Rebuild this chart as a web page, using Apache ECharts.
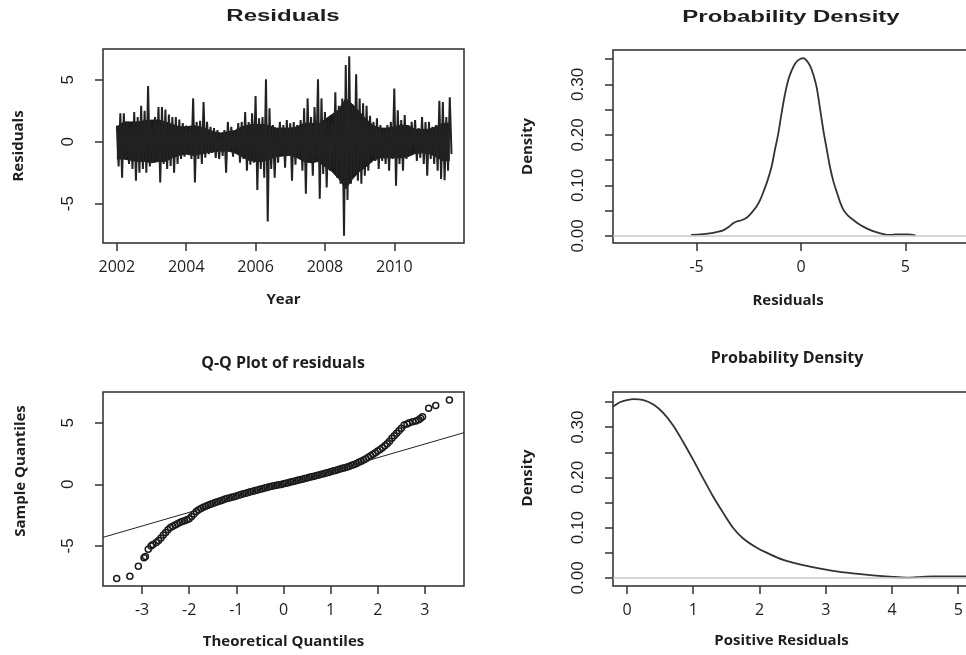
<!DOCTYPE html>
<html><head><meta charset="utf-8">
<script src="https://cdn.jsdelivr.net/npm/echarts@6/dist/echarts.min.js"></script>
<style>html,body{margin:0;padding:0;background:#fff;overflow:hidden;width:966px;height:655px}#c{width:1010px;height:655px}</style>
</head><body><div id="c"></div>
<script>
// ---------- Panel 1: residual time series ----------
// swing extremes per 0.1-year step
const startYear = 2002.0;
const yearStep = 0.1;
const residUpper = [1.3,2.3,2.3,1.6,1.2,2.4,2.0,2.9,2.5,4.5,
  1.35,2.0,2.8,2.8,2.6,2.2,2.0,2.0,1.8,1.5,
  1.3,1.2,3.5,1.6,1.7,3.2,1.6,1.2,1.1,0.95,
  0.7,0.95,1.6,1.2,0.8,1.5,1.6,2.4,1.6,2.3,
  3.7,1.9,2.0,5.05,2.7,1.35,1.1,1.6,1.35,1.75,
  1.5,1.6,1.35,1.75,2.7,3.5,2.0,2.8,5.05,3.5,
  2.4,1.75,1.6,4.0,2.9,3.5,6.2,6.9,3.0,5.45,
  3.5,3.1,2.9,2.1,1.6,1.9,1.35,0.95,1.35,1.6,
  4.3,2.55,1.75,2.15,1.35,1.6,1.75,1.1,2.0,1.6,
  1.6,1.2,1.35,3.3,3.2,2.0,3.6];
const residLower = [-2.0,-2.9,-1.3,-1.8,-2.2,-3.15,-2.5,-2.2,-2.5,-2.0,
  -1.7,-1.4,-3.3,-1.8,-2.2,-1.95,-2.5,-1.8,-1.4,-1.2,
  -1.0,-1.4,-3.3,-1.4,-1.8,-1.3,-1.0,-0.9,-1.3,-1.4,
  -1.15,-2.5,-0.8,-1.2,-0.8,-1.7,-1.4,-2.35,-1.85,-1.7,
  -3.9,-2.2,-2.9,-6.45,-2.2,-2.9,-1.7,-1.0,-2.1,-1.15,
  -3.15,-1.85,-1.3,-2.35,-4.2,-1.6,-2.75,-1.4,-4.6,-2.6,
  -3.7,-2.35,-2.1,-2.9,-3.4,-7.6,-4.7,-3.4,-2.6,-3.15,
  -3.4,-2.75,-2.35,-1.3,-1.55,-2.2,-1.55,-1.8,-2.35,-1.4,
  -3.55,-1.8,-2.35,-1.4,-1.15,-0.5,-1.55,-1.3,-1.8,-2.75,
  -1.4,-1.8,-2.35,-3.0,-3.1,-2.35,-1.0];
// dense (solid) core of the daily residuals per 0.2-year step
const coreStep = 0.2;
const coreUpper = [1.2,1.6,1.6,1.6,1.7,1.75,1.75,1.6,1.4,1.2,
  1.2,1.3,1.2,1.0,0.8,0.7,0.8,0.9,1.2,1.35,
  1.4,1.4,1.3,1.1,1.1,1.1,1.2,1.5,1.5,1.4,
  1.8,2.2,2.6,3.5,3.0,2.4,1.8,1.3,1.1,1.1,
  1.2,1.35,1.3,1.0,1.0,1.0,1.2,1.5,1.5];
const coreLower = [-1.4,-1.4,-1.5,-1.6,-1.6,-1.7,-1.6,-1.6,-1.3,-1.1,
  -1.0,-1.1,-1.0,-0.9,-0.8,-0.75,-0.75,-0.9,-1.2,-1.5,
  -1.6,-1.6,-1.4,-1.2,-1.15,-1.1,-1.3,-1.6,-1.7,-1.6,
  -2.0,-2.4,-3.0,-3.8,-3.0,-2.4,-2.0,-1.5,-1.3,-1.3,
  -1.3,-1.3,-1.2,-0.95,-0.9,-0.95,-1.2,-1.55,-1.5];
const yearTicks = [2002,2004,2006,2008,2010];

// ---------- Panel 2: density of residuals ----------
const densX = [-5.26,-4.8,-4.37,-4.0,-3.73,-3.45,-3.25,-3.05,-2.85,-2.6,-2.4,-2.13,-1.95,-1.81,-1.6,-1.41,-1.25,-1.09,-0.93,-0.77,-0.6,-0.45,-0.3,-0.13,0.1,0.25,0.43,0.6,0.75,0.9,1.07,1.23,1.39,1.55,1.71,1.87,2.04,2.25,2.52,2.75,3.0,3.3,3.64,3.9,4.12,4.35,4.52,4.8,5.08,5.48];
const densY = [0.002,0.003,0.005,0.008,0.011,0.018,0.025,0.029,0.031,0.036,0.044,0.058,0.072,0.086,0.11,0.137,0.17,0.202,0.243,0.28,0.31,0.327,0.34,0.348,0.352,0.348,0.337,0.318,0.294,0.255,0.209,0.172,0.136,0.108,0.087,0.067,0.051,0.04,0.031,0.024,0.018,0.012,0.007,0.004,0.002,0.002,0.003,0.003,0.003,0.001];
const residTicks = [-5,0,5];
const densTicks = [0,0.05,0.10,0.15,0.20,0.25,0.30,0.35];
const densLabels = [0,0.10,0.20,0.30];

// ---------- Panel 3: Q-Q plot ----------
const qqTheoretical = [-3.54,-3.26,-3.08,-2.96,-2.93,-2.87,-2.81,-2.77,-2.70,-2.65,
  -2.60,-2.55,-2.50,-2.45,-2.40,-2.35,-2.30,-2.25,-2.20,-2.15,-2.10,-2.05,-2.00,-1.95,-1.90,-1.85,-1.80,-1.75,-1.70,-1.65,
  -1.60,-1.55,-1.50,-1.45,-1.40,-1.35,-1.30,-1.25,-1.20,-1.15,-1.10,-1.05,-1.00,-0.95,-0.90,-0.85,-0.80,-0.75,-0.70,-0.65,
  -0.60,-0.55,-0.50,-0.45,-0.40,-0.35,-0.30,-0.25,-0.20,-0.15,-0.10,-0.05,0.00,0.05,0.10,0.15,0.20,0.25,0.30,0.35,
  0.40,0.45,0.50,0.55,0.60,0.65,0.70,0.75,0.80,0.85,0.90,0.95,1.00,1.05,1.10,1.15,1.20,1.25,1.30,1.35,
  1.40,1.45,1.50,1.55,1.60,1.65,1.70,1.75,1.80,1.85,1.90,1.95,2.00,2.05,2.10,2.15,2.20,2.25,2.30,2.35,
  2.40,2.45,2.50,2.56,2.62,2.67,2.74,2.81,2.87,2.91,2.95,3.08,3.23,3.52];
const qqSample = [-7.64,-7.45,-6.64,-5.95,-5.85,-5.26,-5.0,-4.88,-4.72,-4.55,
  -4.35,-4.1,-3.9,-3.68,-3.5,-3.4,-3.3,-3.2,-3.1,-3.02,-2.95,-2.88,-2.8,-2.6,-2.4,-2.2,-2.05,-1.95,-1.85,-1.77,
  -1.7,-1.62,-1.55,-1.47,-1.4,-1.34,-1.28,-1.21,-1.15,-1.1,-1.05,-1.0,-0.95,-0.89,-0.83,-0.77,-0.72,-0.66,-0.6,-0.55,
  -0.5,-0.45,-0.4,-0.35,-0.3,-0.25,-0.2,-0.16,-0.12,-0.08,-0.04,0.0,0.05,0.1,0.14,0.19,0.24,0.28,0.33,0.37,
  0.42,0.47,0.52,0.57,0.62,0.67,0.72,0.77,0.82,0.87,0.92,0.97,1.03,1.08,1.13,1.18,1.24,1.3,1.36,1.42,
  1.48,1.55,1.62,1.7,1.79,1.88,1.98,2.09,2.2,2.32,2.45,2.57,2.7,2.84,2.98,3.13,3.3,3.5,3.75,3.95,
  4.15,4.35,4.55,4.82,4.9,5.0,5.08,5.15,5.25,5.37,5.5,6.18,6.4,6.86];
const qqLineX = [-3.83, 3.83];
const qqLineY = [-4.3, 4.2];
const qqXTicks = [-3,-2,-1,0,1,2,3];
const qqYTicks = [-5,0,5];

// ---------- Panel 4: density of positive residuals ----------
const posX = [-0.21,-0.1,0.0,0.1,0.25,0.4,0.55,0.7,0.85,1.0,1.15,1.3,1.45,1.6,1.75,1.96,2.16,2.36,2.61,2.86,3.11,3.41,3.71,4.02,4.22,4.37,4.62,5.11,5.5];
const posY = [0.341,0.35,0.354,0.356,0.354,0.345,0.328,0.303,0.27,0.235,0.198,0.162,0.13,0.1,0.079,0.06,0.047,0.036,0.027,0.02,0.014,0.009,0.005,0.002,0.0008,0.0015,0.003,0.003,0.003];
const posTicks = [0,1,2,3,4,5];

// ---------- build ----------
const tsData = [];
residUpper.forEach((u, i) => {
  const t = startYear + i * yearStep;
  tsData.push([t, u]);
  tsData.push([t + yearStep / 2, residLower[i]]);
});
const coreUpData = coreUpper.map((v, i) => [startYear + i * coreStep, v]);
const coreLowData = coreLower.map((v, i) => [startYear + i * coreStep, v]);
const zip = (a, b) => a.map((v, i) => [v, b[i]]);

const INK = '#1e1e1e';
const tickFont = '"Open Sans", sans-serif';
const yFont = '"Liberation Sans", Arial, sans-serif';
const nameStyle = (pad) => ({ fontFamily: tickFont, fontWeight: 'bold', fontSize: 15, color: INK, padding: pad || 0 });

function xAx(gi, min, max, ticks, name, gap, pad, fmt) {
  return {
    type: 'value', gridIndex: gi, min, max, name, nameLocation: 'middle', nameGap: gap,
    nameTextStyle: nameStyle(pad),
    axisLine: { show: false, onZero: false },
    axisTick: { show: true, length: 8, customValues: ticks, lineStyle: { color: '#333', width: 1.5 } },
    axisLabel: { show: true, customValues: ticks, margin: 16, fontFamily: tickFont, fontSize: 16, color: INK,
      formatter: fmt || (v => String(v)) },
    splitLine: { show: false }
  };
}
function yAx(gi, min, max, ticks, labels, name, gap, pad, fmt) {
  return {
    type: 'value', gridIndex: gi, min, max, name, nameLocation: 'middle', nameGap: gap,
    nameTextStyle: nameStyle(pad),
    axisLine: { show: false, onZero: false },
    axisTick: { show: true, length: 8, customValues: ticks, lineStyle: { color: '#333', width: 1.5 } },
    axisLabel: { show: true, customValues: labels, rotate: 90, margin: 26, fontFamily: yFont, fontSize: 17, color: INK,
      formatter: fmt || (v => String(v)) },
    splitLine: { show: false }
  };
}
const gridStyle = { show: true, borderColor: '#2b2b2b', borderWidth: 1.5, backgroundColor: 'transparent' };
const zeroLine = { silent: true, symbol: 'none', label: { show: false },
  lineStyle: { color: '#c8c8c8', width: 1.5, type: 'solid' }, data: [{ yAxis: 0 }], animation: false };

const titleText = (x, y, text, font, sx) => ({
  type: 'text', x, y, scaleX: sx || 1, silent: true,
  style: { text, font, fill: INK, textAlign: 'center', textVerticalAlign: 'middle', align: 'center', verticalAlign: 'middle' }
});

const coreSeries = (data, name) => ({
  type: 'line', name, xAxisIndex: 0, yAxisIndex: 0, data, showSymbol: false, silent: true,
  lineStyle: { color: '#1a1a1a', width: 1 }, areaStyle: { color: '#1a1a1a', opacity: 1, origin: 0 }, clip: true
});

const option = {
  animation: false,
  backgroundColor: '#fff',
  grid: [
    Object.assign({ left: 103, top: 49, width: 361, height: 194 }, gridStyle),
    Object.assign({ left: 613, top: 50, width: 376, height: 193 }, gridStyle),
    Object.assign({ left: 103, top: 392, width: 361, height: 194 }, gridStyle),
    Object.assign({ left: 613, top: 392, width: 385, height: 194 }, gridStyle)
  ],
  xAxis: [
    xAx(0, 2001.6, 2012.01, yearTicks, 'Year', 49),
    xAx(1, -9, 9, residTicks, 'Residuals', 50, [0, 26, 0, 0]),
    xAx(2, -3.83, 3.83, qqXTicks, 'Theoretical Quantiles', 48),
    xAx(3, -0.211, 5.6, posTicks, 'Positive Residuals', 47, [0, 48, 0, 0])
  ],
  yAxis: [
    yAx(0, -8.18, 7.49, qqYTicks, residTicks, 'Residuals', 77),
    yAx(1, -0.014, 0.368, densTicks, densLabels, 'Density', 78, 0, v => v.toFixed(2)),
    yAx(2, -8.25, 7.5, qqYTicks, qqYTicks, 'Sample Quantiles', 75, [0, 0, 0, 36]),
    yAx(3, -0.016, 0.370, densTicks, densLabels, 'Density', 78, [0, 0, 0, 22], v => v.toFixed(2))
  ],
  graphic: [
    titleText(283, 17, 'Residuals', 'bold 16px "Liberation Sans", Arial, sans-serif', 1.5),
    titleText(791, 18, 'Probability Density', 'bold 16px "Liberation Sans", Arial, sans-serif', 1.5),
    titleText(283, 363, 'Q-Q Plot of residuals', 'bold 16px "Open Sans", sans-serif'),
    titleText(787, 358, 'Probability Density', 'bold 16px "Open Sans", sans-serif')
  ],
  series: [
    coreSeries(coreUpData, 'Residual core (upper)'),
    coreSeries(coreLowData, 'Residual core (lower)'),
    { type: 'line', name: 'Residuals', xAxisIndex: 0, yAxisIndex: 0, data: tsData, showSymbol: false,
      sampling: null, lineStyle: { color: '#222', width: 2 }, clip: true },
    { type: 'line', name: 'Density', xAxisIndex: 1, yAxisIndex: 1, data: zip(densX, densY), showSymbol: false,
      smooth: 0.3, lineStyle: { color: '#333', width: 1.8 }, markLine: zeroLine, clip: true },
    { type: 'scatter', name: 'Q-Q', xAxisIndex: 2, yAxisIndex: 2, data: zip(qqTheoretical, qqSample),
      symbol: 'circle', symbolSize: 6, itemStyle: { color: 'rgba(0,0,0,0)', borderColor: '#1a1a1a', borderWidth: 1.5, opacity: 1 } },
    { type: 'line', name: 'Q-Q line', xAxisIndex: 2, yAxisIndex: 2, data: zip(qqLineX, qqLineY), showSymbol: false,
      lineStyle: { color: '#222', width: 1 }, clip: true },
    { type: 'line', name: 'Positive density', xAxisIndex: 3, yAxisIndex: 3, data: zip(posX, posY), showSymbol: false,
      smooth: 0.3, lineStyle: { color: '#333', width: 1.8 }, markLine: zeroLine, clip: true }
  ]
};
const chart = echarts.init(document.getElementById('c'), null, { renderer: 'canvas' });
chart.setOption(option);
</script></body></html>
